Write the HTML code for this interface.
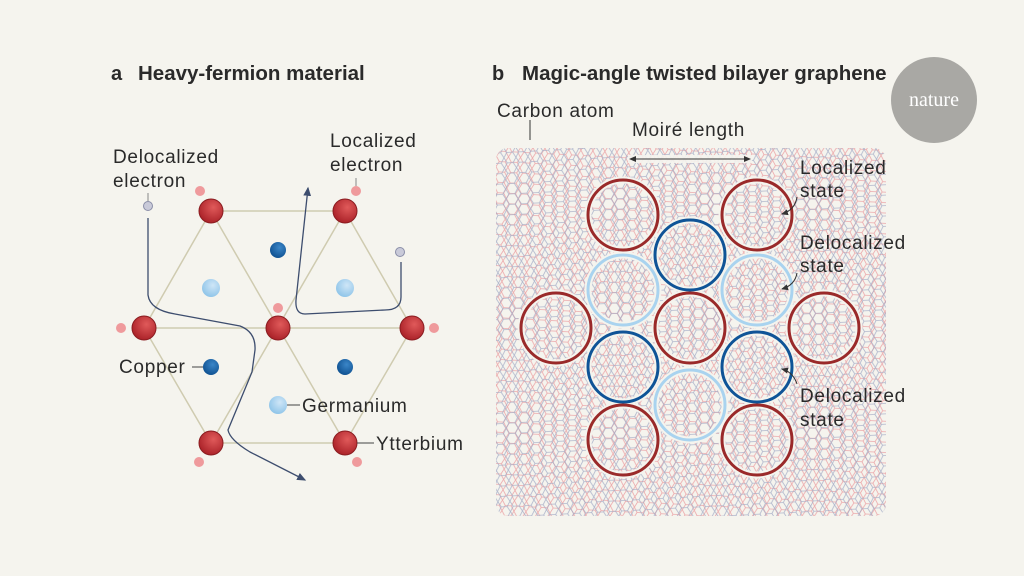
<!DOCTYPE html>
<html><head><style>
body{margin:0;background:#f5f4ee;}
svg{display:block}
text{font-family:"Liberation Sans",sans-serif;fill:#2a2a2a}
</style></head><body>
<svg width="1024" height="576" viewBox="0 0 1024 576" xmlns="http://www.w3.org/2000/svg">
<defs>
<pattern id="hp" width="12" height="10.4" patternUnits="userSpaceOnUse" patternTransform="rotate(3)">
<path d="M0,0 L3,-5.2 L9,-5.2 L12,0 L9,5.2 L3,5.2 Z M3,5.2 L0,10.4 M9,5.2 L12,10.4" fill="none" stroke="#eca8aa" stroke-width="0.8" transform="translate(0,5.2)"/>
</pattern>
<pattern id="hb" width="12" height="10.4" patternUnits="userSpaceOnUse" patternTransform="rotate(-3) translate(3,2)">
<path d="M0,0 L3,-5.2 L9,-5.2 L12,0 L9,5.2 L3,5.2 Z M3,5.2 L0,10.4 M9,5.2 L12,10.4" fill="none" stroke="#a3abc6" stroke-width="0.8" transform="translate(0,5.2)"/>
</pattern>
<radialGradient id="rg" cx="0.6" cy="0.35" r="0.7"><stop offset="0" stop-color="#e05a5a"/><stop offset="1" stop-color="#a81f26"/></radialGradient>
<radialGradient id="bg" cx="0.6" cy="0.35" r="0.7"><stop offset="0" stop-color="#3b86c8"/><stop offset="1" stop-color="#0d4f8f"/></radialGradient>
<radialGradient id="lg" cx="0.6" cy="0.35" r="0.7"><stop offset="0" stop-color="#cfe6f7"/><stop offset="1" stop-color="#8cc3e8"/></radialGradient>
<marker id="ar" markerWidth="8" markerHeight="8" refX="6" refY="4" orient="auto"><path d="M0,1 L7,4 L0,7 Z" fill="#3d4d6e"/></marker>
<marker id="ag" markerWidth="8" markerHeight="8" refX="6" refY="4" orient="auto"><path d="M0,1 L7,4 L0,7 Z" fill="#333"/></marker>
</defs>

<!-- titles -->
<text x="111" y="80" font-size="20" font-weight="bold" fill="#111">a</text>
<text x="138" y="80" font-size="20.5" font-weight="bold" fill="#111">Heavy-fermion material</text>
<text x="492" y="80" font-size="20" font-weight="bold" fill="#111">b</text>
<text x="522" y="80" font-size="20.5" font-weight="bold" fill="#111">Magic-angle twisted bilayer graphene</text>
<circle cx="934" cy="100" r="43" fill="#a9a8a4"/>
<text x="934" y="106" font-size="20" text-anchor="middle" style="font-family:'Liberation Serif',serif;fill:#fff">nature</text>

<!-- panel a lattice lines -->
<g stroke="#cfcbb0" stroke-width="1.5" fill="none">
<path d="M211,211 L345,211 L412,328 L345,443 L211,443 L144,328 Z M144,328 L412,328 M211,211 L345,443 M345,211 L211,443"/>
</g>
<g fill="none" stroke="#3d4d6e" stroke-width="1.3">
<path d="M148,218 L148,295 Q150,310 175,314 L240,326 Q256,332 255,350 L252,372 Q232,420 228,430 Q230,440 250,452 L305,480" marker-end="url(#ar)"/>
<path d="M401,262 L401,297 Q401,310 385,310 L305,314 Q295,314 296,300 L308,188" marker-end="url(#ar)"/>
</g>
<g fill="#c9cad9" stroke="#8a8ea8" stroke-width="1"><circle cx="148" cy="206" r="4.5"/><circle cx="400" cy="252" r="4.5"/></g>
<line x1="148" y1="193" x2="148" y2="201" stroke="#888"/>
<line x1="356" y1="178" x2="356" y2="186" stroke="#888"/>
<g fill="#ef9a9c"><circle cx="200" cy="191" r="5"/><circle cx="356" cy="191" r="5"/><circle cx="121" cy="328" r="5"/><circle cx="278" cy="308" r="5"/><circle cx="434" cy="328" r="5"/><circle cx="199" cy="462" r="5"/><circle cx="357" cy="462" r="5"/></g>
<g fill="url(#rg)" stroke="#8a1c20" stroke-width="1"><circle cx="211" cy="211" r="12"/><circle cx="345" cy="211" r="12"/><circle cx="144" cy="328" r="12"/><circle cx="278" cy="328" r="12"/><circle cx="412" cy="328" r="12"/><circle cx="211" cy="443" r="12"/><circle cx="345" cy="443" r="12"/></g>
<g fill="url(#bg)"><circle cx="278" cy="250" r="8"/><circle cx="211" cy="367" r="8"/><circle cx="345" cy="367" r="8"/></g>
<g fill="url(#lg)"><circle cx="211" cy="288" r="9"/><circle cx="345" cy="288" r="9"/><circle cx="278" cy="405" r="9"/></g>
<g stroke="#444" stroke-width="1"><line x1="192" y1="367" x2="203" y2="367"/><line x1="287" y1="405" x2="300" y2="405"/><line x1="357" y1="443" x2="374" y2="443"/></g>
<g font-size="19" letter-spacing="0.7">
<text x="113" y="163">Delocalized</text><text x="113" y="187">electron</text>
<text x="330" y="147">Localized</text><text x="330" y="171">electron</text>
<text x="119" y="373">Copper</text>
<text x="302" y="412">Germanium</text>
<text x="376" y="450">Ytterbium</text>
</g>

<!-- panel b -->
<rect x="496" y="148" width="390" height="368" rx="12" fill="url(#hp)"/>
<rect x="496" y="148" width="390" height="368" rx="12" fill="url(#hb)" opacity="0.85"/>
<g fill="none" stroke-width="3">
<g stroke="#f5f4ee" stroke-width="7">
<circle cx="623" cy="215" r="35"/><circle cx="757" cy="215" r="35"/><circle cx="556" cy="328" r="35"/><circle cx="690" cy="328" r="35"/><circle cx="824" cy="328" r="35"/><circle cx="623" cy="440" r="35"/><circle cx="757" cy="440" r="35"/>
<circle cx="690" cy="255" r="35"/><circle cx="623" cy="367" r="35"/><circle cx="757" cy="367" r="35"/><circle cx="623" cy="290" r="35"/><circle cx="757" cy="290" r="35"/><circle cx="690" cy="405" r="35"/>
</g>
<g stroke="#9a2a2a"><circle cx="623" cy="215" r="35"/><circle cx="757" cy="215" r="35"/><circle cx="556" cy="328" r="35"/><circle cx="690" cy="328" r="35"/><circle cx="824" cy="328" r="35"/><circle cx="623" cy="440" r="35"/><circle cx="757" cy="440" r="35"/></g>
<g stroke="#0f5497"><circle cx="690" cy="255" r="35"/><circle cx="623" cy="367" r="35"/><circle cx="757" cy="367" r="35"/></g>
<g stroke="#a9d3ef"><circle cx="623" cy="290" r="35"/><circle cx="757" cy="290" r="35"/><circle cx="690" cy="405" r="35"/></g>
</g>
<rect x="628" y="155" width="124" height="8" fill="#f5f4ee" opacity="0.9"/>
<line x1="630" y1="159" x2="750" y2="159" stroke="#333" stroke-width="1" marker-end="url(#ag)"/>
<line x1="750" y1="159" x2="630" y2="159" stroke="#333" stroke-width="1" marker-end="url(#ag)"/>
<g stroke="#333" stroke-width="1" fill="none">
<path d="M530,120 L530,140"/>
<path d="M797,197 Q795,210 782,214" marker-end="url(#ag)"/>
<path d="M797,273 Q795,285 782,289" marker-end="url(#ag)"/>
<path d="M797,384 Q793,372 782,369" marker-end="url(#ag)"/>
</g>
<g font-size="19" letter-spacing="0.7">
<text x="497" y="117">Carbon atom</text>
<text x="632" y="136">Moiré length</text>
<text x="800" y="174">Localized</text><text x="800" y="197">state</text>
<text x="800" y="249">Delocalized</text><text x="800" y="272">state</text>
<text x="800" y="402">Delocalized</text><text x="800" y="426">state</text>
</g>
</svg>
</body></html>
